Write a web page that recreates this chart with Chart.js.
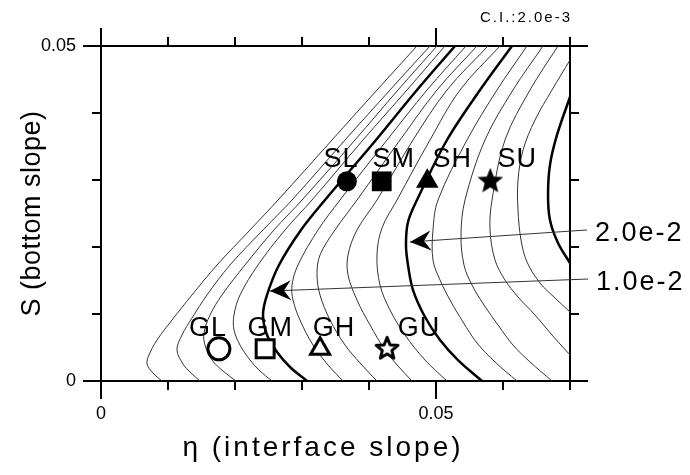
<!DOCTYPE html>
<html>
<head>
<meta charset="utf-8">
<script src="https://cdn.jsdelivr.net/npm/chart.js@4.4.1/dist/chart.umd.min.js"></script>
<style>
  html, body { margin: 0; padding: 0; background: #fff; }
</style>
</head>
<body>
<canvas id="contour" width="690" height="475"></canvas>
<script>
// contour levels, C.I. 2.0e-3 (every 1.0e-2 drawn thick)
var levels = [0.002, 0.004, 0.006, 0.008, 0.010, 0.012, 0.014, 0.016, 0.018, 0.020, 0.022, 0.024, 0.026, 0.028, 0.030];

// contour lines as [eta, S]
var c02 = [[0.04716,0.05],[0.04119,0.04343],[0.03448,0.03597],[0.02642,0.02701],[0.02224,0.02254],[0.01731,0.01731],[0.01358,0.01284],[0.01060,0.00910],[0.00836,0.00612],[0.00716,0.00388],[0.00687,0.00254],[0.00776,0.00119],[0.00910,0]];
var c04 = [[0.04910,0.05],[0.04313,0.04343],[0.03642,0.03597],[0.02851,0.02701],[0.02418,0.02254],[0.01925,0.01731],[0.01582,0.01284],[0.01358,0.00940],[0.01209,0.00687],[0.01134,0.00463],[0.01224,0.00254],[0.01343,0.00119],[0.01478,0]];
var c06 = [[0.05015,0.05],[0.04433,0.04343],[0.03791,0.03597],[0.03000,0.02701],[0.02582,0.02254],[0.02149,0.01731],[0.01806,0.01284],[0.01627,0.00985],[0.01537,0.00716],[0.01552,0.00537],[0.01657,0.00313],[0.01821,0.00149],[0.02015,0]];
var c08 = [[0.05134,0.05],[0.04567,0.04343],[0.03910,0.03597],[0.03149,0.02701],[0.02746,0.02254],[0.02343,0.01731],[0.02075,0.01284],[0.01985,0.00985],[0.01985,0.00761],[0.02075,0.00537],[0.02224,0.00313],[0.02373,0.00149],[0.02552,0]];
var c10 = [[0.05284,0.05],[0.04716,0.04343],[0.04104,0.03597],[0.03343,0.02701],[0.02985,0.02254],[0.02657,0.01731],[0.02478,0.01284],[0.02418,0.00985],[0.02478,0.00687],[0.02627,0.00433],[0.02821,0.00209],[0.03075,0]];
var c12 = [[0.05448,0.05],[0.04866,0.04343],[0.04269,0.03597],[0.03567,0.02701],[0.03239,0.02254],[0.02940,0.01731],[0.02851,0.01433],[0.02866,0.01209],[0.02970,0.00910],[0.03164,0.00537],[0.03388,0.00239],[0.03612,0]];
var c14 = [[0.05612,0.05],[0.05015,0.04343],[0.04463,0.03597],[0.03821,0.02701],[0.03493,0.02254],[0.03269,0.01881],[0.03224,0.01582],[0.03269,0.01284],[0.03418,0.00910],[0.03642,0.00537],[0.03866,0.00269],[0.04119,0]];
var c16 = [[0.05776,0.05],[0.05164,0.04343],[0.04657,0.03597],[0.04119,0.02701],[0.03821,0.02254],[0.03687,0.01881],[0.03687,0.01582],[0.03821,0.01209],[0.04015,0.00836],[0.04239,0.00463],[0.04433,0.00224],[0.04642,0]];
var c18 = [[0.05955,0.05],[0.05358,0.04343],[0.04910,0.03597],[0.04418,0.02701],[0.04194,0.02284],[0.04119,0.01881],[0.04164,0.01433],[0.04313,0.01060],[0.04537,0.00687],[0.04836,0.00313],[0.05164,0]];
var c20 = [[0.06134,0.05],[0.05657,0.04343],[0.05164,0.03597],[0.04716,0.02701],[0.04582,0.02373],[0.04552,0.02030],[0.04582,0.01731],[0.04657,0.01358],[0.04836,0.00955],[0.05060,0.00612],[0.05328,0.00313],[0.05687,0]];
var c22 = [[0.06358,0.05],[0.05910,0.04343],[0.05463,0.03597],[0.05030,0.02701],[0.04955,0.02254],[0.04955,0.01806],[0.05060,0.01507],[0.05209,0.01209],[0.05403,0.00881],[0.05612,0.00567],[0.05881,0.00284],[0.06209,0]];
var c24 = [[0.06597,0.05],[0.06149,0.04343],[0.05731,0.03597],[0.05433,0.02701],[0.05373,0.02179],[0.05418,0.01731],[0.05537,0.01433],[0.05716,0.01134],[0.05925,0.00836],[0.06149,0.00537],[0.06403,0.00284],[0.06731,0]];
var c26 = [[0.06821,0.05],[0.06403,0.04343],[0.06030,0.03597],[0.05836,0.02701],[0.05806,0.02254],[0.05881,0.01806],[0.06030,0.01507],[0.06224,0.01254],[0.06478,0.00985],[0.06731,0.00687],[0.07000,0.00388]];
var c28 = [[0.07000,0.04791],[0.06731,0.04343],[0.06478,0.03896],[0.06299,0.03448],[0.06224,0.03000],[0.06224,0.02552],[0.06269,0.02104],[0.06358,0.01776],[0.06552,0.01463],[0.06776,0.01239],[0.07000,0.01030]];
var c30 = [[0.07000,0.04239],[0.06806,0.03672],[0.06701,0.03224],[0.06672,0.02776],[0.06701,0.02403],[0.06821,0.02060],[0.07000,0.01761]];
var contours = [c02, c04, c06, c08, c10, c12, c14, c16, c18, c20, c22, c24, c26, c28, c30];

// experiment points
var sNames = ['SL', 'SM', 'SH', 'SU'];
var sEta = [0.0367, 0.0419, 0.0487, 0.0581];
var sSlope = [0.0298, 0.0298, 0.0298, 0.0298];
var gNames = ['GL', 'GM', 'GH', 'GU'];
var gEta = [0.0176, 0.0245, 0.0327, 0.0427];
var gSlope = [0.0048, 0.0048, 0.0048, 0.0048];

// arrow callouts for the thick contours
var arrowText = ['2.0e-2', '1.0e-2'];
var arrowTail = [[0.07254, 0.02254], [0.07269, 0.01522]];
var arrowTip = [[0.04612, 0.02075], [0.02522, 0.01343]];

// axis tick labels
var xTickVals = [0, 0.05];
var xTickText = ['0', '0.05'];
var yTickVals = [0, 0.05];
var yTickText = ['0', '0.05'];

var FONT = '"Liberation Sans", Arial, Helvetica, sans-serif';

function tickLabel(vals, text) {
  return function (v) {
    for (var i = 0; i < vals.length; i++) {
      if (Math.abs(vals[i] - v) < 1e-9) return text[i];
    }
    return '';
  };
}

function makeStar(filled) {
  var outer = filled ? 13.5 : 11.5, inner = filled ? 6 : 5, lw = filled ? 0 : 3;
  var size = 34;
  var cv = document.createElement('canvas');
  cv.width = size; cv.height = size;
  var g = cv.getContext('2d');
  g.translate(size / 2, size / 2);
  g.beginPath();
  for (var i = 0; i < 10; i++) {
    var r = i % 2 ? inner : outer;
    var a = -Math.PI / 2 + i * Math.PI / 5;
    g.lineTo(r * Math.cos(a), r * Math.sin(a));
  }
  g.closePath();
  g.fillStyle = filled ? '#000' : '#fff';
  g.fill();
  if (lw) {
    g.lineWidth = lw; g.lineJoin = 'round'; g.strokeStyle = '#000';
    g.stroke();
  }
  return cv;
}

function pts(arr) {
  return arr.map(function (p) { return { x: p[0], y: p[1] }; });
}

function drawText(ctx, text, x, y, size, spacing, align, baseline) {
  ctx.save();
  ctx.font = size + 'px ' + FONT;
  ctx.letterSpacing = spacing + 'px';
  ctx.textAlign = align;
  ctx.textBaseline = baseline || 'alphabetic';
  ctx.fillStyle = '#000';
  ctx.fillText(text, x, y);
  ctx.restore();
}

// labels, arrowheads, ticks and titles
var overlay = {
  id: 'overlay',
  afterDatasetsDraw: function (chart) {
    var ctx = chart.ctx, xs = chart.scales.x, ys = chart.scales.y;
    // marker labels
    var sDx = [-6, 12, 25, 27], gDx = [-11, 5, 14, 32];
    sNames.forEach(function (n, i) {
      drawText(ctx, n, xs.getPixelForValue(sEta[i]) + sDx[i], ys.getPixelForValue(sSlope[i]) - 14, 27, 1, 'center');
    });
    gNames.forEach(function (n, i) {
      drawText(ctx, n, xs.getPixelForValue(gEta[i]) + gDx[i], ys.getPixelForValue(gSlope[i]) - 13, 27, 1, 'center');
    });
    // arrowheads and callout text
    arrowTip.forEach(function (tip, i) {
      var x1 = xs.getPixelForValue(arrowTail[i][0]), y1 = ys.getPixelForValue(arrowTail[i][1]);
      var x2 = xs.getPixelForValue(tip[0]), y2 = ys.getPixelForValue(tip[1]);
      var a = Math.atan2(y2 - y1, x2 - x1);
      ctx.save();
      ctx.translate(x2, y2);
      ctx.rotate(a);
      ctx.beginPath();
      ctx.moveTo(0, 0);
      ctx.lineTo(-21, -10);
      ctx.lineTo(-14, 0);
      ctx.lineTo(-21, 10);
      ctx.closePath();
      ctx.fillStyle = '#000';
      ctx.fill();
      ctx.restore();
      drawText(ctx, arrowText[i], x1 + 8, y1 + 11, 27, 2, 'left');
    });
  },
  afterDraw: function (chart) {
    var ctx = chart.ctx, area = chart.chartArea;
    ctx.save();
    ctx.strokeStyle = '#000';
    ctx.lineWidth = 2;
    ctx.beginPath();
    [['x', 'bottom'], ['x2', 'top'], ['y', 'left'], ['y2', 'right']].forEach(function (s) {
      var scale = chart.scales[s[0]], side = s[1];
      scale.ticks.forEach(function (t) {
        var q = t.value / 0.05;
        var len = Math.abs(q - Math.round(q)) < 1e-6 ? 18 : 9;
        var p = Math.round(scale.getPixelForValue(t.value));
        if (side === 'bottom') { ctx.moveTo(p, area.bottom); ctx.lineTo(p, area.bottom + len); }
        if (side === 'top') { ctx.moveTo(p, area.top); ctx.lineTo(p, area.top - len); }
        if (side === 'left') { ctx.moveTo(area.left, p); ctx.lineTo(area.left - len, p); }
        if (side === 'right') { ctx.moveTo(area.right, p); ctx.lineTo(area.right + len, p); }
      });
    });
    ctx.stroke();
    ctx.restore();

    // axis titles and contour interval
    drawText(ctx, '\u03b7 (interface slope)', area.left + 222, area.bottom + 75, 28, 3, 'center');
    ctx.save();
    ctx.translate(33, (area.top + area.bottom) / 2);
    ctx.rotate(-Math.PI / 2);
    drawText(ctx, 'S (bottom slope)', 0, 0, 27, 0.5, 'center', 'middle');
    ctx.restore();
    drawText(ctx, 'C.I.:2.0e-3', area.right + 2, 22, 15, 2, 'right');
  }
};

var datasets = [];

// filled points (upper row)
datasets.push({
  data: sEta.map(function (e, i) { return { x: e, y: sSlope[i] }; }),
  pointStyle: ['circle', 'rect', 'triangle', makeStar(true)],
  pointRadius: [10, 14, 13, 13],
  pointBackgroundColor: '#000',
  pointBorderColor: '#000',
  pointBorderWidth: 0,
  showLine: false
});
// open points (lower row)
datasets.push({
  data: gEta.map(function (e, i) { return { x: e, y: gSlope[i] }; }),
  pointStyle: ['circle', 'rect', 'triangle', makeStar(false)],
  pointRadius: [11, 12.7, 11, 13],
  pointBackgroundColor: '#fff',
  pointBorderColor: '#000',
  pointBorderWidth: 3,
  showLine: false
});
// arrow shafts
arrowTip.forEach(function (tip, i) {
  datasets.push({
    data: pts([arrowTail[i], tip]),
    showLine: true,
    borderColor: '#333',
    borderWidth: 1,
    pointRadius: 0,
    tension: 0,
    clip: false
  });
});
// contour lines
contours.forEach(function (c, i) {
  var q = levels[i] / 0.01;
  var thick = Math.abs(q - Math.round(q)) < 1e-6;
  datasets.push({
    label: levels[i].toFixed(3),
    data: pts(c),
    showLine: true,
    borderColor: thick ? '#000' : '#333',
    borderWidth: thick ? 2.5 : 1,
    pointRadius: 0,
    tension: 0.35,
    clip: 0
  });
});

new Chart(document.getElementById('contour').getContext('2d'), {
  type: 'scatter',
  data: { datasets: datasets },
  options: {
    responsive: false,
    animation: false,
    events: [],
    devicePixelRatio: 1,
    layout: { padding: 0 },
    plugins: { legend: { display: false }, tooltip: { enabled: false } },
    scales: {
      x: {
        type: 'linear', position: 'bottom', min: 0, max: 0.07,
        grid: { display: false, drawTicks: false },
        border: { display: true, color: '#000', width: 2 },
        ticks: { stepSize: 0.01, autoSkip: false, maxRotation: 0, padding: 22, color: '#000',
                 font: { family: FONT, size: 18 }, callback: tickLabel(xTickVals, xTickText) },
        afterFit: function (s) { s.height = 94; }
      },
      x2: {
        type: 'linear', position: 'top', min: 0, max: 0.07,
        grid: { display: false, drawTicks: false },
        border: { display: true, color: '#000', width: 2 },
        ticks: { stepSize: 0.01, display: false },
        afterFit: function (s) { s.height = 46; }
      },
      y: {
        type: 'linear', position: 'left', min: 0, max: 0.05,
        grid: { display: false, drawTicks: false },
        border: { display: true, color: '#000', width: 2 },
        ticks: { stepSize: 0.01, autoSkip: false, padding: 25, color: '#000',
                 font: { family: FONT, size: 18 }, callback: tickLabel(yTickVals, yTickText) },
        afterFit: function (s) { s.width = 101; }
      },
      y2: {
        type: 'linear', position: 'right', min: 0, max: 0.05,
        grid: { display: false, drawTicks: false },
        border: { display: true, color: '#000', width: 2 },
        ticks: { stepSize: 0.01, display: false },
        afterFit: function (s) { s.width = 120; }
      }
    }
  },
  plugins: [overlay]
});
</script>
</body>
</html>
